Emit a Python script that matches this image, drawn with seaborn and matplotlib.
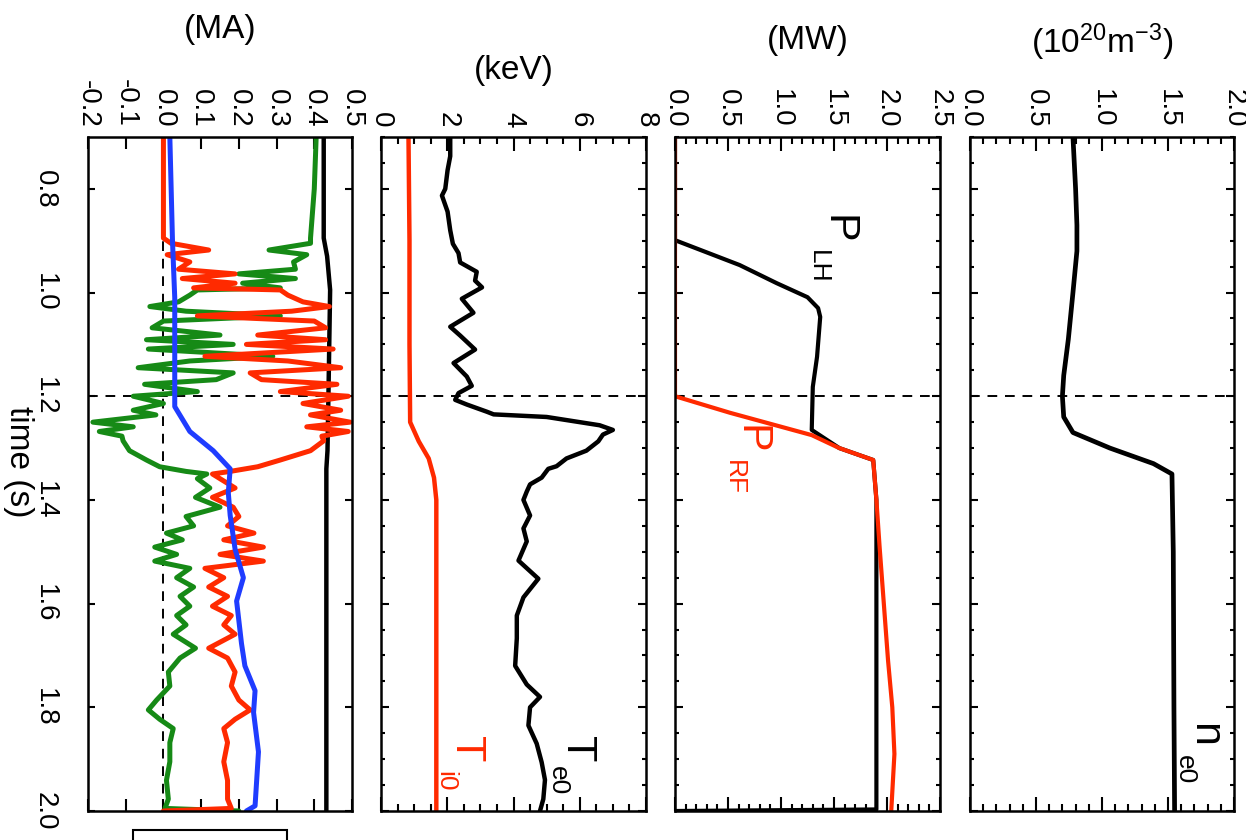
import matplotlib
matplotlib.use('Agg')
import numpy as np
import pandas as pd
import matplotlib.pyplot as plt
import seaborn as sns
from matplotlib.ticker import MultipleLocator, FormatStrFormatter, NullLocator
from matplotlib.patches import Rectangle

sns.set_theme(style='white')
plt.rcParams['font.family'] = ['Liberation Sans', 'DejaVu Sans']
plt.rcParams['axes.unicode_minus'] = False
plt.rcParams['mathtext.fontset'] = 'custom'
plt.rcParams['mathtext.rm'] = 'Liberation Sans'
plt.rcParams['mathtext.it'] = 'Liberation Sans:italic'
plt.rcParams['mathtext.bf'] = 'Liberation Sans:bold'
plt.rcParams['axes.edgecolor'] = 'black'
plt.rcParams['xtick.color'] = 'black'
plt.rcParams['ytick.color'] = 'black'
plt.rcParams['text.color'] = 'black'
plt.rcParams['axes.labelcolor'] = 'black'

# ---------------- data ----------------
# density panel (10^20 m^-3)
t_ne = [0.70, 0.80, 0.87, 0.92, 1.00, 1.09, 1.16, 1.20, 1.24, 1.27, 1.30, 1.33, 1.35, 1.50, 1.80, 2.00]
ne0 = [0.78, 0.80, 0.81, 0.81, 0.78, 0.745, 0.71, 0.70, 0.71, 0.78, 1.06, 1.39, 1.53, 1.54, 1.545, 1.55]

# power panel (MW)
t_plh = [0.70, 0.899, 0.947, 0.982, 1.009, 1.030, 1.047, 1.124, 1.182, 1.265, 1.300, 1.323, 1.40, 1.60, 1.80, 1.997, 2.00]
p_lh = [0.0, 0.0, 0.61, 0.96, 1.25, 1.35, 1.37, 1.34, 1.30, 1.29, 1.55, 1.87, 1.90, 1.90, 1.90, 1.90, 0.0]
t_prf = [0.70, 1.20, 1.232, 1.275, 1.300, 1.323, 1.40, 1.49, 1.60, 1.71, 1.80, 1.89, 2.00]
p_rf = [0.0, 0.0, 0.52, 1.29, 1.55, 1.87, 1.90, 1.93, 1.97, 2.01, 2.05, 2.07, 2.04]

# temperature panel (keV)
t_te = [0.700, 0.737, 0.764, 0.800, 0.813, 0.844, 0.880, 0.906, 0.924, 0.942, 0.960, 0.977,
        0.990, 1.012, 1.039, 1.066, 1.083, 1.110, 1.136, 1.162, 1.180, 1.194, 1.207, 1.216,
        1.230, 1.235, 1.240, 1.256, 1.265, 1.274, 1.287, 1.305, 1.320, 1.335, 1.340, 1.357,
        1.370, 1.384, 1.400, 1.430, 1.455, 1.480, 1.517, 1.552, 1.588, 1.623, 1.667, 1.720,
        1.756, 1.780, 1.800, 1.835, 1.870, 1.906, 1.940, 1.977, 2.000]
te0 = [2.09, 2.09, 2.01, 1.94, 1.84, 2.01, 2.09, 2.17, 2.34, 2.39, 2.89, 2.84,
       3.05, 2.44, 2.79, 2.09, 2.39, 2.84, 2.19, 2.59, 2.74, 2.34, 2.24, 2.59,
       3.20, 3.40, 5.00, 6.60, 7.00, 6.70, 6.56, 6.20, 5.60, 5.30, 5.05, 4.85,
       4.50, 4.40, 4.30, 4.50, 4.30, 4.40, 4.15, 4.75, 4.30, 4.10, 4.10, 4.05,
       4.40, 4.80, 4.50, 4.45, 4.70, 4.85, 4.95, 4.90, 4.80]
t_ti = [0.70, 0.90, 1.10, 1.25, 1.287, 1.320, 1.357, 1.40, 1.60, 1.80, 2.00]
ti0 = [0.83, 0.86, 0.86, 0.88, 1.14, 1.44, 1.60, 1.67, 1.67, 1.67, 1.67]

# current panel (MA)
t_ip = [0.70, 0.895, 0.93, 0.995, 1.177, 1.305, 1.34, 2.00]
i_tot = [0.425, 0.425, 0.434, 0.442, 0.438, 0.435, 0.432, 0.432]

t_cd = [0.700, 0.800, 0.895, 0.905, 0.918, 0.927, 0.941, 0.955, 0.964, 0.973, 0.982, 0.991,
        0.995, 1.005, 1.018, 1.027, 1.036, 1.045, 1.055, 1.068, 1.082, 1.091, 1.100, 1.109,
        1.123, 1.132, 1.145, 1.155, 1.168, 1.177, 1.191, 1.200, 1.214, 1.227, 1.236, 1.250,
        1.259, 1.268, 1.277, 1.286, 1.305, 1.323, 1.336, 1.345, 1.350, 1.359, 1.377, 1.395,
        1.414, 1.432, 1.450, 1.464, 1.477, 1.491, 1.505, 1.518, 1.532, 1.550, 1.568, 1.586,
        1.605, 1.623, 1.641, 1.659, 1.686, 1.705, 1.732, 1.759, 1.786, 1.805, 1.823, 1.841,
        1.868, 1.905, 1.941, 1.977, 1.995, 2.000]
i_red = [0.0, 0.0, 0.0, 0.02, 0.12, 0.01, 0.07, 0.04, 0.19, 0.05, 0.19, 0.08,
         0.31, 0.33, 0.37, 0.44, 0.34, 0.09, 0.40, 0.43, 0.25, 0.43, 0.22, 0.45,
         0.11, 0.33, 0.47, 0.23, 0.26, 0.46, 0.31, 0.49, 0.37, 0.47, 0.39, 0.495,
         0.38, 0.49, 0.42, 0.425, 0.39, 0.31, 0.25, 0.177, 0.13, 0.15, 0.19, 0.13,
         0.185, 0.20, 0.17, 0.24, 0.16, 0.265, 0.15, 0.265, 0.11, 0.16, 0.12, 0.17,
         0.13, 0.18, 0.16, 0.19, 0.12, 0.17, 0.19, 0.18, 0.20, 0.23, 0.19, 0.16,
         0.17, 0.16, 0.17, 0.17, 0.18, 0.0]
i_green = [0.405, 0.40, 0.39, 0.39, 0.28, 0.38, 0.345, 0.35, 0.20, 0.35, 0.21, 0.31,
           0.09, 0.07, 0.04, -0.036, 0.06, 0.31, 0.0, -0.03, 0.15, -0.045, 0.185, -0.04,
           0.29, 0.07, -0.067, 0.185, 0.14, -0.05, 0.09, -0.08, 0.0, -0.08, -0.02, -0.187,
           -0.08, -0.17, -0.11, -0.107, -0.09, -0.045, -0.01, 0.06, 0.115, 0.09, 0.123, 0.085,
           0.15, 0.06, 0.08, 0.008, 0.05, -0.023, 0.035, -0.023, 0.07, 0.035, 0.08, 0.044,
           0.07, 0.035, 0.06, 0.026, 0.085, 0.044, 0.013, 0.017, -0.018, -0.04, -0.01, 0.026,
           0.017, 0.017, 0.008, 0.013, 0.004, 0.20]
t_blue = [0.70, 0.90, 1.01, 1.22, 1.268, 1.305, 1.34, 1.386, 1.43, 1.495, 1.55, 1.595,
          1.677, 1.72, 1.768, 1.81, 1.886, 1.99, 2.00]
i_blue = [0.017, 0.024, 0.03, 0.03, 0.07, 0.132, 0.177, 0.172, 0.177, 0.19, 0.212, 0.194,
          0.207, 0.216, 0.243, 0.239, 0.252, 0.243, 0.22]

time_ticks = [0.8, 1.0, 1.2, 1.4, 1.6, 1.8, 2.0]
t_mark = 1.2

RED = '#ff2a00'
GREEN = '#168a16'
BLUE = '#1f3cff'

# ---------------- figure ----------------
fig = plt.figure(figsize=(12.46, 8.4), dpi=100)
W, H = 1246.0, 840.0
bot = 29 / H
hgt = 674 / H
lefts = [88, 381, 675, 970]
widths = [264, 265, 265, 264]
axes = [fig.add_axes([l / W, bot, w / W, hgt]) for l, w in zip(lefts, widths)]
ax_i, ax_t, ax_p, ax_n = axes

TICK_FS = 20
UNIT_FS = 24


def style_axis(ax, xlim, xmajor, xminor, fmt, tmajor_len, tminor, vmaj_len):
    ax.set_ylim(2.0, 0.7)
    ax.set_xlim(*xlim)
    for s in ax.spines.values():
        s.set_linewidth(1.8)
        s.set_color('black')
    ax.xaxis.set_major_locator(MultipleLocator(xmajor))
    if xminor:
        ax.xaxis.set_minor_locator(MultipleLocator(xminor))
    else:
        ax.xaxis.set_minor_locator(NullLocator())
    ax.xaxis.set_major_formatter(FormatStrFormatter(fmt))
    ax.yaxis.set_major_locator(MultipleLocator(0.2))
    if tminor:
        ax.yaxis.set_minor_locator(MultipleLocator(0.05))
    else:
        ax.yaxis.set_minor_locator(NullLocator())
    ax.xaxis.set_label_position('top')
    ax.tick_params(axis='x', which='both', direction='in', top=True, bottom=True,
                   labeltop=True, labelbottom=False, labelrotation=-90,
                   labelsize=TICK_FS, pad=7, width=1.5)
    ax.tick_params(axis='x', which='major', length=vmaj_len)
    ax.tick_params(axis='x', which='minor', length=5)
    ax.tick_params(axis='y', which='both', direction='in', left=True, right=True,
                   labelleft=False, labelright=False, width=1.5)
    ax.tick_params(axis='y', which='major', length=tmajor_len)
    ax.tick_params(axis='y', which='minor', length=3)
    ax.grid(False)
    ax.axhline(t_mark, color='black', lw=1.4, ls=(0, (5, 4)), zorder=1)


# current panel
sns.lineplot(x=i_tot, y=t_ip, orient='y', sort=False, estimator=None, color='black', lw=3.2, ax=ax_i)
sns.lineplot(x=i_green, y=t_cd, orient='y', sort=False, estimator=None, color=GREEN, lw=3.6, ax=ax_i)
sns.lineplot(x=i_red, y=t_cd, orient='y', sort=False, estimator=None, color=RED, lw=3.6, ax=ax_i)
sns.lineplot(x=i_blue, y=t_blue, orient='y', sort=False, estimator=None, color=BLUE, lw=3.6, ax=ax_i)
ax_i.axvline(0.0, color='black', lw=1.4, ls=(0, (5, 4)), zorder=1)
style_axis(ax_i, (-0.2, 0.5), 0.1, None, '%.1f', 5, False, 8.5)
ax_i.yaxis.set_major_formatter(FormatStrFormatter('%.1f'))
ax_i.tick_params(axis='y', which='major', labelleft=True, labelrotation=-90,
                 labelsize=TICK_FS, pad=22)
ax_i.set_ylabel('time (s)', fontsize=UNIT_FS, rotation=-90, va='center', ha='center')
ax_i.yaxis.set_label_coords((18 - 88) / 264, (811 - 462) / 674)

# temperature panel
sns.lineplot(x=ti0, y=t_ti, orient='y', sort=False, estimator=None, color=RED, lw=3.2, ax=ax_t)
sns.lineplot(x=te0, y=t_te, orient='y', sort=False, estimator=None, color='black', lw=3.2, ax=ax_t)
style_axis(ax_t, (0, 8), 2, 0.5, '%d', 6, True, 10)
ax_t.set_ylabel('')

# power panel
sns.lineplot(x=p_lh, y=t_plh, orient='y', sort=False, estimator=None, color='black', lw=3.0, ax=ax_p)
sns.lineplot(x=p_rf, y=t_prf, orient='y', sort=False, estimator=None, color=RED, lw=3.0, ax=ax_p)
style_axis(ax_p, (0, 2.5), 0.5, 0.1, '%.1f', 6, True, 10)
ax_p.set_ylabel('')

# density panel
sns.lineplot(x=ne0, y=t_ne, orient='y', sort=False, estimator=None, color='black', lw=3.4, ax=ax_n)
style_axis(ax_n, (0, 2.0), 0.5, 0.1, '%.1f', 6, True, 10)
ax_n.set_ylabel('')

# units
units = ['(MA)', '(keV)', '(MW)', r'(10$^{20}$m$^{-3}$)']
unit_y = [30, 71, 41, 42]
for ax, u, yy in zip(axes, units, unit_y):
    ax.set_xlabel(u, fontsize=UNIT_FS, va='center', ha='center')
    ax.xaxis.set_label_coords(0.5, (811 - yy) / 674)

for ax in axes:
    for lab in ax.get_yticklabels():
        lab.set_va('center')

# curve labels
BIG = 31
SUB = 19
def lbl(ax, x, y, s, fs, c):
    ax.text(x, y, s, fontsize=fs, color=c, rotation=-90, ha='center', va='center')

lbl(ax_p, 1.53, 0.879, 'P', BIG, 'black')
lbl(ax_p, 1.35, 0.951, 'LH', SUB, 'black')
lbl(ax_p, 0.708, 1.284, 'P', BIG, RED)
lbl(ax_p, 0.557, 1.356, 'RF', SUB, RED)
lbl(ax_t, 5.92, 1.880, 'T', BIG, 'black')
lbl(ax_t, 5.34, 1.942, 'e0', SUB, 'black')
lbl(ax_t, 2.57, 1.880, 'T', BIG, RED)
lbl(ax_t, 1.93, 1.942, 'i0', SUB, RED)
lbl(ax_n, 1.773, 1.853, 'n', BIG, 'black')
lbl(ax_n, 1.63, 1.921, 'e0', SUB, 'black')

# partially visible box at bottom
fig.add_artist(Rectangle((133 / W, -0.05), 154 / W, 0.05 + 10 / H, transform=fig.transFigure,
                         fill=False, ec='black', lw=1.5, clip_on=False))

fig.savefig('out.png', dpi=100)
